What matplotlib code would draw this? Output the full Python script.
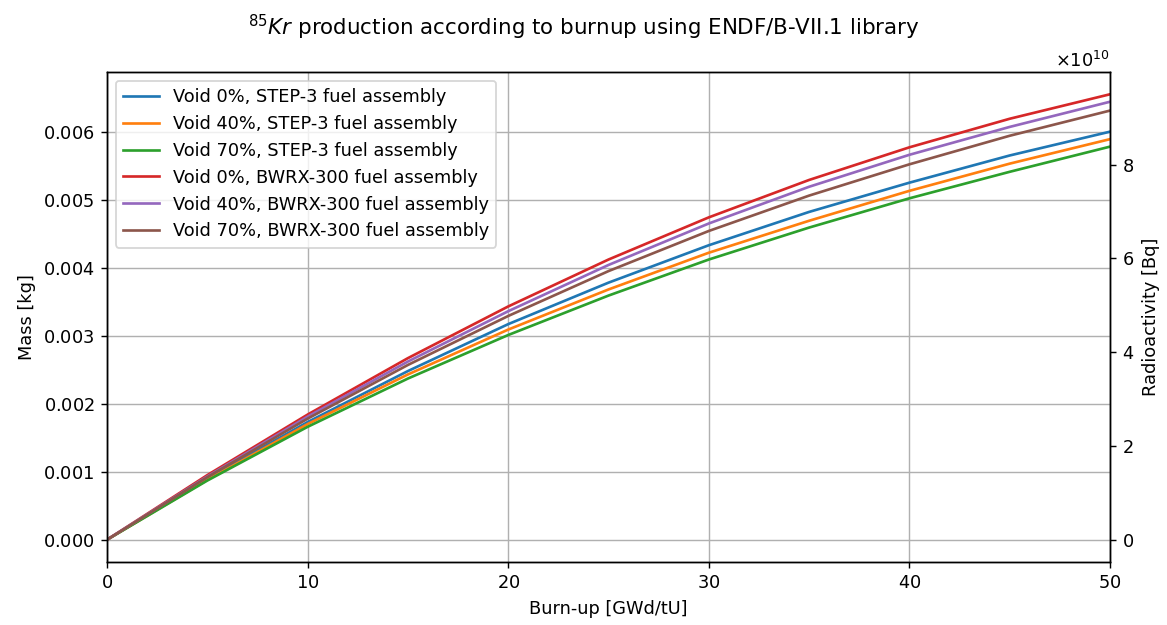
import matplotlib
matplotlib.use("Agg")
import matplotlib.pyplot as plt
import numpy as np

burnup = [0, 5, 10, 15, 20, 25, 30, 35, 40, 45, 50]
labels = [
    "Void 0%, STEP-3 fuel assembly",
    "Void 40%, STEP-3 fuel assembly",
    "Void 70%, STEP-3 fuel assembly",
    "Void 0%, BWRX-300 fuel assembly",
    "Void 40%, BWRX-300 fuel assembly",
    "Void 70%, BWRX-300 fuel assembly",
]
step3_v0 = [0, 0.90, 1.73, 2.48, 3.17, 3.78, 4.33, 4.82, 5.25, 5.65, 6.00]
step3_v40 = [0, 0.88, 1.70, 2.43, 3.09, 3.68, 4.22, 4.69, 5.13, 5.53, 5.89]
step3_v70 = [0, 0.87, 1.66, 2.37, 3.01, 3.59, 4.12, 4.59, 5.02, 5.41, 5.78]
bwrx_v0 = [0, 0.95, 1.84, 2.67, 3.43, 4.12, 4.74, 5.29, 5.77, 6.19, 6.55]
bwrx_v40 = [0, 0.93, 1.81, 2.62, 3.36, 4.04, 4.65, 5.19, 5.66, 6.07, 6.44]
bwrx_v70 = [0, 0.92, 1.78, 2.57, 3.29, 3.95, 4.54, 5.06, 5.52, 5.94, 6.31]
series = [step3_v0, step3_v40, step3_v70, bwrx_v0, bwrx_v40, bwrx_v70]
mass_scale = 1e-3           # values above are in units of 1e-3 kg
activity_per_mass = 1.45e13  # Bq per kg-unit as shown on the right axis

plt.rcParams['axes.formatter.use_mathtext'] = True

dpi = 128
fig = plt.figure(figsize=(1167 / dpi, 625 / dpi), dpi=dpi)
ax = fig.add_axes([107 / 1167, 1 - 562 / 625, (1110 - 107) / 1167, (562 - 72) / 625])

for lab, vals in zip(labels, series):
    ax.plot(burnup, np.array(vals) * mass_scale, label=lab)

ax.set_xlim(0, 50)
ax.grid(True)
ax.set_xlabel("Burn-up [GWd/tU]")
ax.set_ylabel("Mass [kg]")
ax.legend(loc="upper left")

ax2 = ax.twinx()
lo, hi = ax.get_ylim()
ax2.set_ylim(lo * activity_per_mass, hi * activity_per_mass)
ax2.set_ylabel("Radioactivity [Bq]")

fig.suptitle(r"$^{85}Kr$ production according to burnup using ENDF/B-VII.1 library")
fig.savefig("out.png", dpi=dpi)
